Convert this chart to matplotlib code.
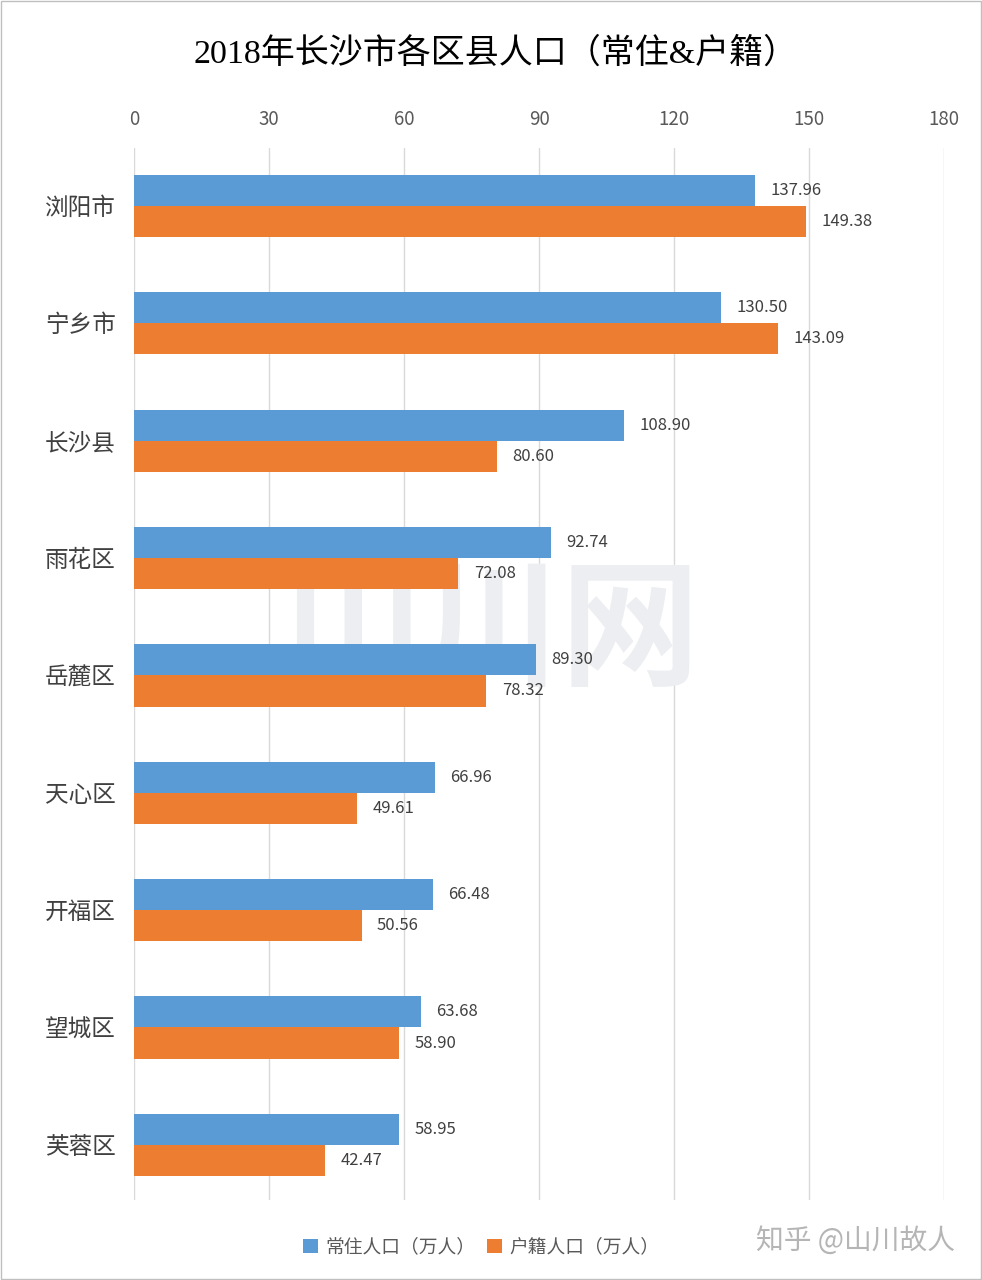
import numpy as np
import matplotlib.pyplot as plt
from matplotlib.patches import Rectangle

plt.rcParams['font.family'] = ['Noto Sans CJK SC', 'DejaVu Sans']

# 数据
districts = ['浏阳市', '宁乡市', '长沙县', '雨花区', '岳麓区', '天心区', '开福区', '望城区', '芙蓉区']
changzhu = [137.96, 130.50, 108.90, 92.74, 89.30, 66.96, 66.48, 63.68, 58.95]  # 常住人口
huji = [149.38, 143.09, 80.60, 72.08, 78.32, 49.61, 50.56, 58.90, 42.47]  # 户籍人口
xticks = [0, 30, 60, 90, 120, 150, 180]

blue = '#5B9BD5'
orange = '#ED7D31'

fig = plt.figure(figsize=(9.82, 12.8), dpi=100)
ax = fig.add_axes([0.1365, 0.0625, 0.8248, 0.8215])

y = np.arange(len(districts))
h = 0.265
ax.barh(y - h / 2, changzhu, height=h, color=blue, label='常住人口（万人）', zorder=2)
ax.barh(y + h / 2, huji, height=h, color=orange, label='户籍人口（万人）', zorder=2)

# 数据标签
for yi, v in zip(y, changzhu):
    ax.annotate(f'{v:.2f}', (v, yi - h / 2), xytext=(11, 0), textcoords='offset points',
                va='center', ha='left', fontsize=12, color='#404040', zorder=3)
for yi, v in zip(y, huji):
    ax.annotate(f'{v:.2f}', (v, yi + h / 2), xytext=(11, 0), textcoords='offset points',
                va='center', ha='left', fontsize=12, color='#404040', zorder=3)

ax.set_xlim(0, 180)
ax.set_ylim(8.47, -0.49)
ax.set_xticks(xticks)
ax.xaxis.tick_top()
ax.tick_params(axis='x', length=0, pad=13, labelsize=13.5, labelcolor='#595959')
ax.tick_params(axis='y', length=0, pad=13, labelsize=17, labelcolor='#404040')
ax.set_yticks(y)
ax.set_yticklabels(districts)
ax.grid(axis='x', color='#d9d9d9', linewidth=1, zorder=0)
ax.set_axisbelow(True)
for s in ax.spines.values():
    s.set_visible(False)

# 水印
ax.text(0.5, 0.505, '山川网', transform=fig.transFigure, fontsize=100, color='#eceef1',
        ha='center', va='center', fontweight='bold', zorder=1)

fig.text(0.505, 0.958, '2018年长沙市各区县人口（常住&户籍）', ha='center', va='center',
         fontsize=24.5, color='black', family=['Liberation Serif', 'Noto Sans CJK SC'])

fig.legend(loc='center', bbox_to_anchor=(0.49, 0.026), ncol=2, frameon=False,
           fontsize=13.5, labelcolor='#595959', handlelength=0.8, handleheight=0.8,
           handletextpad=0.4, columnspacing=0.6)

fig.text(0.973, 0.031, '知乎 @山川故人', ha='right', va='center', fontsize=20, color='#b5b5b5')

fig.patches.append(Rectangle((0.001, 0.001), 0.998, 0.998, transform=fig.transFigure,
                             fill=False, edgecolor='#bfbfbf', linewidth=1))

fig.savefig('out.png', dpi=100)
